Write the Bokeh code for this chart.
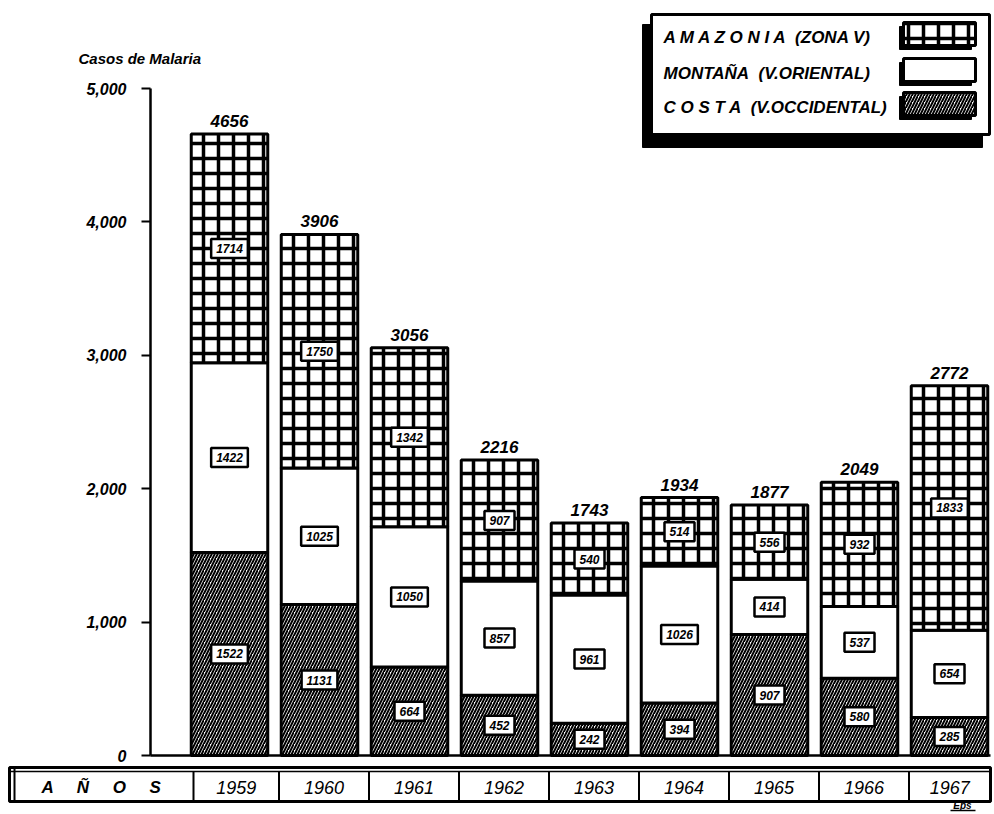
from bokeh.plotting import figure
from bokeh.models import ColumnDataSource, Range1d, FixedTicker
from bokeh.embed import file_html
from bokeh.resources import INLINE
from bokeh.core.properties import value

# ---------------- data ----------------
years = [1959, 1960, 1961, 1962, 1963, 1964, 1965, 1966, 1967]
costa = [1522, 1131, 664, 452, 242, 394, 907, 580, 285]
montana = [1422, 1025, 1050, 857, 961, 1026, 414, 537, 654]
amazonia = [1714, 1750, 1342, 907, 540, 514, 556, 932, 1833]
totals = [4656, 3906, 3056, 2216, 1743, 1934, 1877, 2049, 2772]
y_ticks = [0, 1000, 2000, 3000, 4000, 5000]
y_tick_labels = ["0", "1,000", "2,000", "3,000", "4,000", "5,000"]
series_names = ["A M A Z O N I A\u00a0\u00a0(ZONA V)", "MONTAÑA\u00a0\u00a0(V.ORIENTAL)",
                "C O S T A\u00a0\u00a0(V.OCCIDENTAL)"]
y_title = "Casos de Malaria"
row_title = (" " + "\u00a0" * 4).join(["A", "Ñ", "O", "S"])
signature = "Eps"

FONT = value("Liberation Sans")

# ---------------- geometry helpers (page pixel -> data) ----------------
X0_PX, X_PPU = 229.0, 90.0
Y0_PX, Y_PPU = 755.0, 0.1334


def px_x(px):
    return 1959 + (px - X0_PX) / X_PPU


def px_y(py):
    return (Y0_PX - py) / Y_PPU


W, H = 992, 812

p = figure(width=W, height=H,
           x_range=Range1d(px_x(0), px_x(W)),
           y_range=Range1d(px_y(H), px_y(0)),
           output_backend="svg", toolbar_location=None,
           min_border_left=0, min_border_right=0,
           min_border_top=0, min_border_bottom=0)
p.xaxis.visible = False
p.grid.visible = False
p.outline_line_color = None
p.background_fill_color = "white"
p.border_fill_color = "white"

yax = p.yaxis[0]
yax.fixed_location = px_x(150)
yax.ticker = FixedTicker(ticks=y_ticks)
yax.major_label_overrides = {t: l for t, l in zip(y_ticks, y_tick_labels)}
yax.bounds = (0, 5000)
yax.minor_tick_line_color = None
yax.major_tick_out = 9
yax.major_tick_in = 0
yax.major_tick_line_width = 2
yax.major_tick_line_color = "black"
yax.axis_line_width = 2.5
yax.axis_line_color = "black"
yax.major_label_standoff = 15
yax.major_label_text_font = "Liberation Sans"
yax.major_label_text_font_style = "bold italic"
yax.major_label_text_font_size = "16px"
yax.major_label_text_color = "black"

# baseline
p.segment(x0=[px_x(150)], x1=[px_x(990)], y0=[0], y1=[0], line_color="black", line_width=2.5)

c1 = [a for a in costa]
c2 = [a + b for a, b in zip(costa, montana)]
c3 = [a + b + c for a, b, c in zip(costa, montana, amazonia)]
src = ColumnDataSource(dict(
    x=years, c0=[0] * len(years), c1=c1, c2=c2, c3=c3,
    m1=[v / 2 for v in c1],
    m2=[(a + b) / 2 for a, b in zip(c1, c2)],
    m3=[(a + b) / 2 for a, b in zip(c2, c3)],
    t1=[str(v) for v in costa],
    t2=[str(v) for v in montana],
    t3=[str(v) for v in amazonia],
    tt=[str(v) for v in totals],
))

BW = 0.85
STONE = dict(hatch_pattern="cross", hatch_color="black", hatch_scale=15, hatch_weight=3.5)
DIAG = dict(hatch_pattern="right_diagonal_line", hatch_color="black", hatch_scale=6, hatch_weight=2)
p.vbar(x="x", width=BW, bottom="c0", top="c1", source=src,
       fill_color="white", line_color="black", line_width=3, **DIAG)
p.vbar(x="x", width=BW, bottom="c1", top="c2", source=src,
       fill_color="white", line_color="black", line_width=3)
p.vbar(x="x", width=BW, bottom="c2", top="c3", source=src,
       fill_color="white", line_color="black", line_width=3, **STONE)

for ycol, tcol in (("m1", "t1"), ("m2", "t2"), ("m3", "t3")):
    p.text(x="x", y=ycol, text=tcol, source=src,
           text_align="center", text_baseline="middle",
           text_font=FONT, text_font_style="bold italic",
           text_font_size="12px", text_color="black",
           background_fill_color="white",
           border_line_color="black", border_line_width=2.5,
           padding=5)

p.text(x="x", y="c3", text="tt", source=src,
       text_align="center", text_baseline="bottom", y_offset=-7,
       text_font=FONT, text_font_style="bold italic",
       text_font_size="17px", text_color="black")

p.text(x=[px_x(78)], y=[px_y(58)], text=[y_title],
       text_align="left", text_baseline="middle",
       text_font=FONT, text_font_style="bold italic",
       text_font_size="15px", text_color="black")

# ---------------- legend (drawn by hand, swatch on the right) ----------------
p.quad(left=[px_x(642)], right=[px_x(982)], top=[px_y(24)], bottom=[px_y(147)],
       fill_color="black", line_color="black")
p.quad(left=[px_x(651)], right=[px_x(989)], top=[px_y(14)], bottom=[px_y(134)],
       fill_color="white", line_color="black", line_width=3)

row_y = [37, 73, 107]
sw_top = [22, 58, 92]
styles = [STONE, dict(), DIAG]
for name, ry, st, sty in zip(series_names, row_y, sw_top, styles):
    p.quad(left=[px_x(899)], right=[px_x(971)], top=[px_y(st + 4)], bottom=[px_y(st + 27)],
           fill_color="black", line_color="black")
    p.quad(left=[px_x(903)], right=[px_x(975)], top=[px_y(st)], bottom=[px_y(st + 23)],
           fill_color="white", line_color="black", line_width=3, **sty)
    p.text(x=[px_x(663)], y=[px_y(ry)], text=[name],
           text_align="left", text_baseline="middle",
           text_font=FONT, text_font_style="bold italic",
           text_font_size="17px", text_color="black")

# ---------------- year table ----------------
tab_top, tab_bot = px_y(767), px_y(801)
p.quad(left=[px_x(9)], right=[px_x(990)], top=[tab_top], bottom=[tab_bot],
       fill_color="white", line_color="black", line_width=3)
p.segment(x0=[px_x(14)], x1=[px_x(14)], y0=[tab_bot], y1=[tab_top],
          line_color="black", line_width=2)
p.segment(x0=[px_x(9)], x1=[px_x(990)], y0=[px_y(771)], y1=[px_y(771)],
          line_color="black", line_width=1.5)

bounds = [px_x(193)] + [y + 0.55 for y in years[:-1]] + [px_x(990)]
p.segment(x0=bounds[:-1], x1=bounds[:-1], y0=[tab_bot] * len(years),
          y1=[px_y(771)] * len(years), line_color="black", line_width=2)
centers = [(a + b) / 2 for a, b in zip(bounds[:-1], bounds[1:])]
mid_y = px_y(787)
p.text(x=centers, y=[mid_y] * len(years), text=[str(y) for y in years],
       text_align="center", text_baseline="middle",
       text_font=FONT, text_font_style="italic",
       text_font_size="18px", text_color="black")
p.text(x=[(px_x(9) + px_x(193)) / 2], y=[mid_y], text=[row_title],
       text_align="center", text_baseline="middle",
       text_font=FONT, text_font_style="bold italic",
       text_font_size="17px", text_color="black")
p.text(x=[px_x(962)], y=[px_y(805)], text=[signature],
       text_align="center", text_baseline="middle",
       text_font=FONT, text_font_style="bold italic",
       text_font_size="10px", text_color="black")
p.segment(x0=[px_x(950)], x1=[px_x(975)], y0=[px_y(810)], y1=[px_y(810)],
          line_color="black", line_width=1.5)

open("out.html", "w").write(file_html(p, INLINE))
